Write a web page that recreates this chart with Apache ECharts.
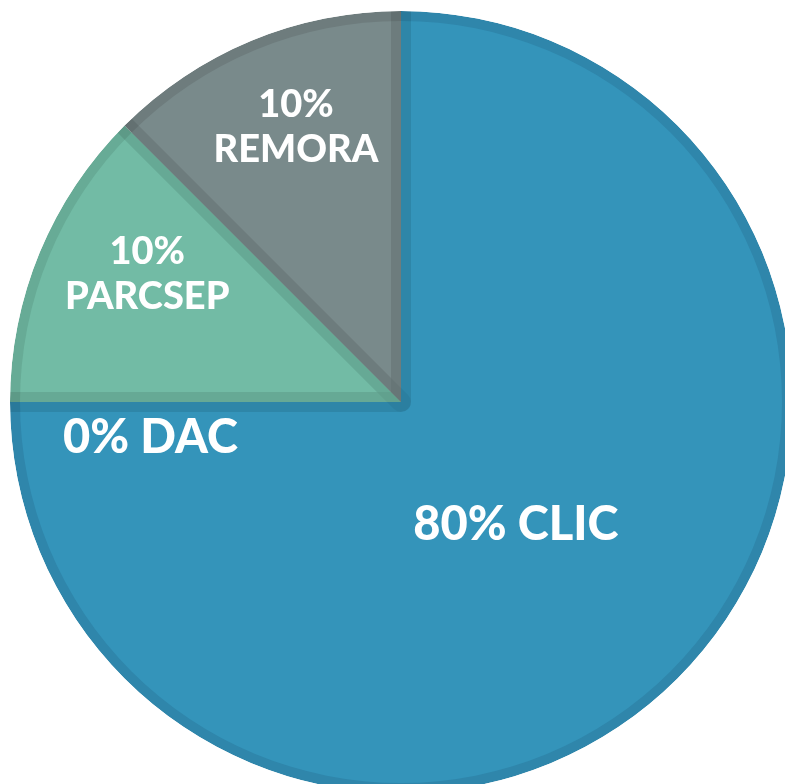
<!DOCTYPE html>
<html>
<head>
<meta charset="utf-8">
<script src="https://cdn.jsdelivr.net/npm/echarts@6/dist/echarts.min.js"></script>
<style>
  html, body { margin: 0; padding: 0; background: #fff; }
  #chart { width: 785px; height: 784px; }
</style>
</head>
<body>
<div id="chart"></div>
<script>
// 数据
const sliceNames = ['CLIC', 'DAC', 'PARCSEP', 'REMORA']
// drawn shares (the picture draws a quarter for each small pair)
const sliceShares = [75, 0, 12.5, 12.5]
// printed percentages
const labelPercents = ['80%', '0%', '10%', '10%']

// 样式
const fillColors = ['#3494ba', '#3494ba', '#72bba5', '#798a8b']
const edgeColors = ['#2f86ab', '#2f86ab', '#67ab96', '#6e7c7d']
const labelSizes = [47, 47, 38, 38]
const labelShift = [[-22, -14], [-57, 36], [-75, -54], [-31, -96]]

const CENTER = [401, 402]
const R = 391
const EDGE = 10

const chart = echarts.init(document.getElementById('chart'))

const makeData = (colors) =>
  sliceNames.map((name, i) => ({
    name,
    value: sliceShares[i],
    itemStyle: { color: colors[i] },
  }))

const base = {
  type: 'pie',
  center: CENTER,
  startAngle: 90,
  clockwise: true,
  avoidLabelOverlap: false,
  animation: false,
  emphasis: { disabled: true },
  labelLine: { show: false },
}

chart.setOption({
  backgroundColor: '#fff',
  series: [
    // outer darker rim
    {
      ...base,
      name: 'edge',
      silent: true,
      radius: R,
      label: { show: false },
      data: makeData(edgeColors),
    },
    // main fill with labels
    {
      ...base,
      name: 'fill',
      radius: R - EDGE,
      label: {
        show: true,
        position: 'inside',
        rotate: 0,
        color: '#fff',
        fontFamily: 'Lato',
        fontWeight: 900,
        lineHeight: 45,
        formatter: (p) => {
          const pct = labelPercents[p.dataIndex]
          return p.value >= 50 || p.value === 0 ? pct + ' ' + p.name : pct + '\n' + p.name
        },
      },
      labelLayout: (p) => ({
        dx: labelShift[p.dataIndex][0],
        dy: labelShift[p.dataIndex][1],
      }),
      data: sliceNames.map((name, i) => ({
        name,
        value: sliceShares[i],
        itemStyle: { color: fillColors[i] },
        label: { fontSize: labelSizes[i] },
      })),
    },
    // darker strips along the radial edges
    {
      ...base,
      name: 'seams',
      silent: true,
      radius: R + EDGE,
      label: { show: false },
      data: sliceNames.map((name, i) => ({
        name,
        value: sliceShares[i],
        itemStyle: {
          color: 'rgba(0,0,0,0)',
          borderColor: 'rgba(0,0,0,0.046)',
          borderWidth: sliceShares[i] === 0 ? 0 : EDGE * 2,
        },
      })),
    },
    // white mask outside the circle
    {
      ...base,
      name: 'mask',
      silent: true,
      radius: [R, 1200],
      label: { show: false },
      itemStyle: { color: '#fff' },
      data: [{ name: '', value: 1 }],
    },
  ],
})

window.addEventListener('resize', () => chart.resize())
</script>
</body>
</html>
